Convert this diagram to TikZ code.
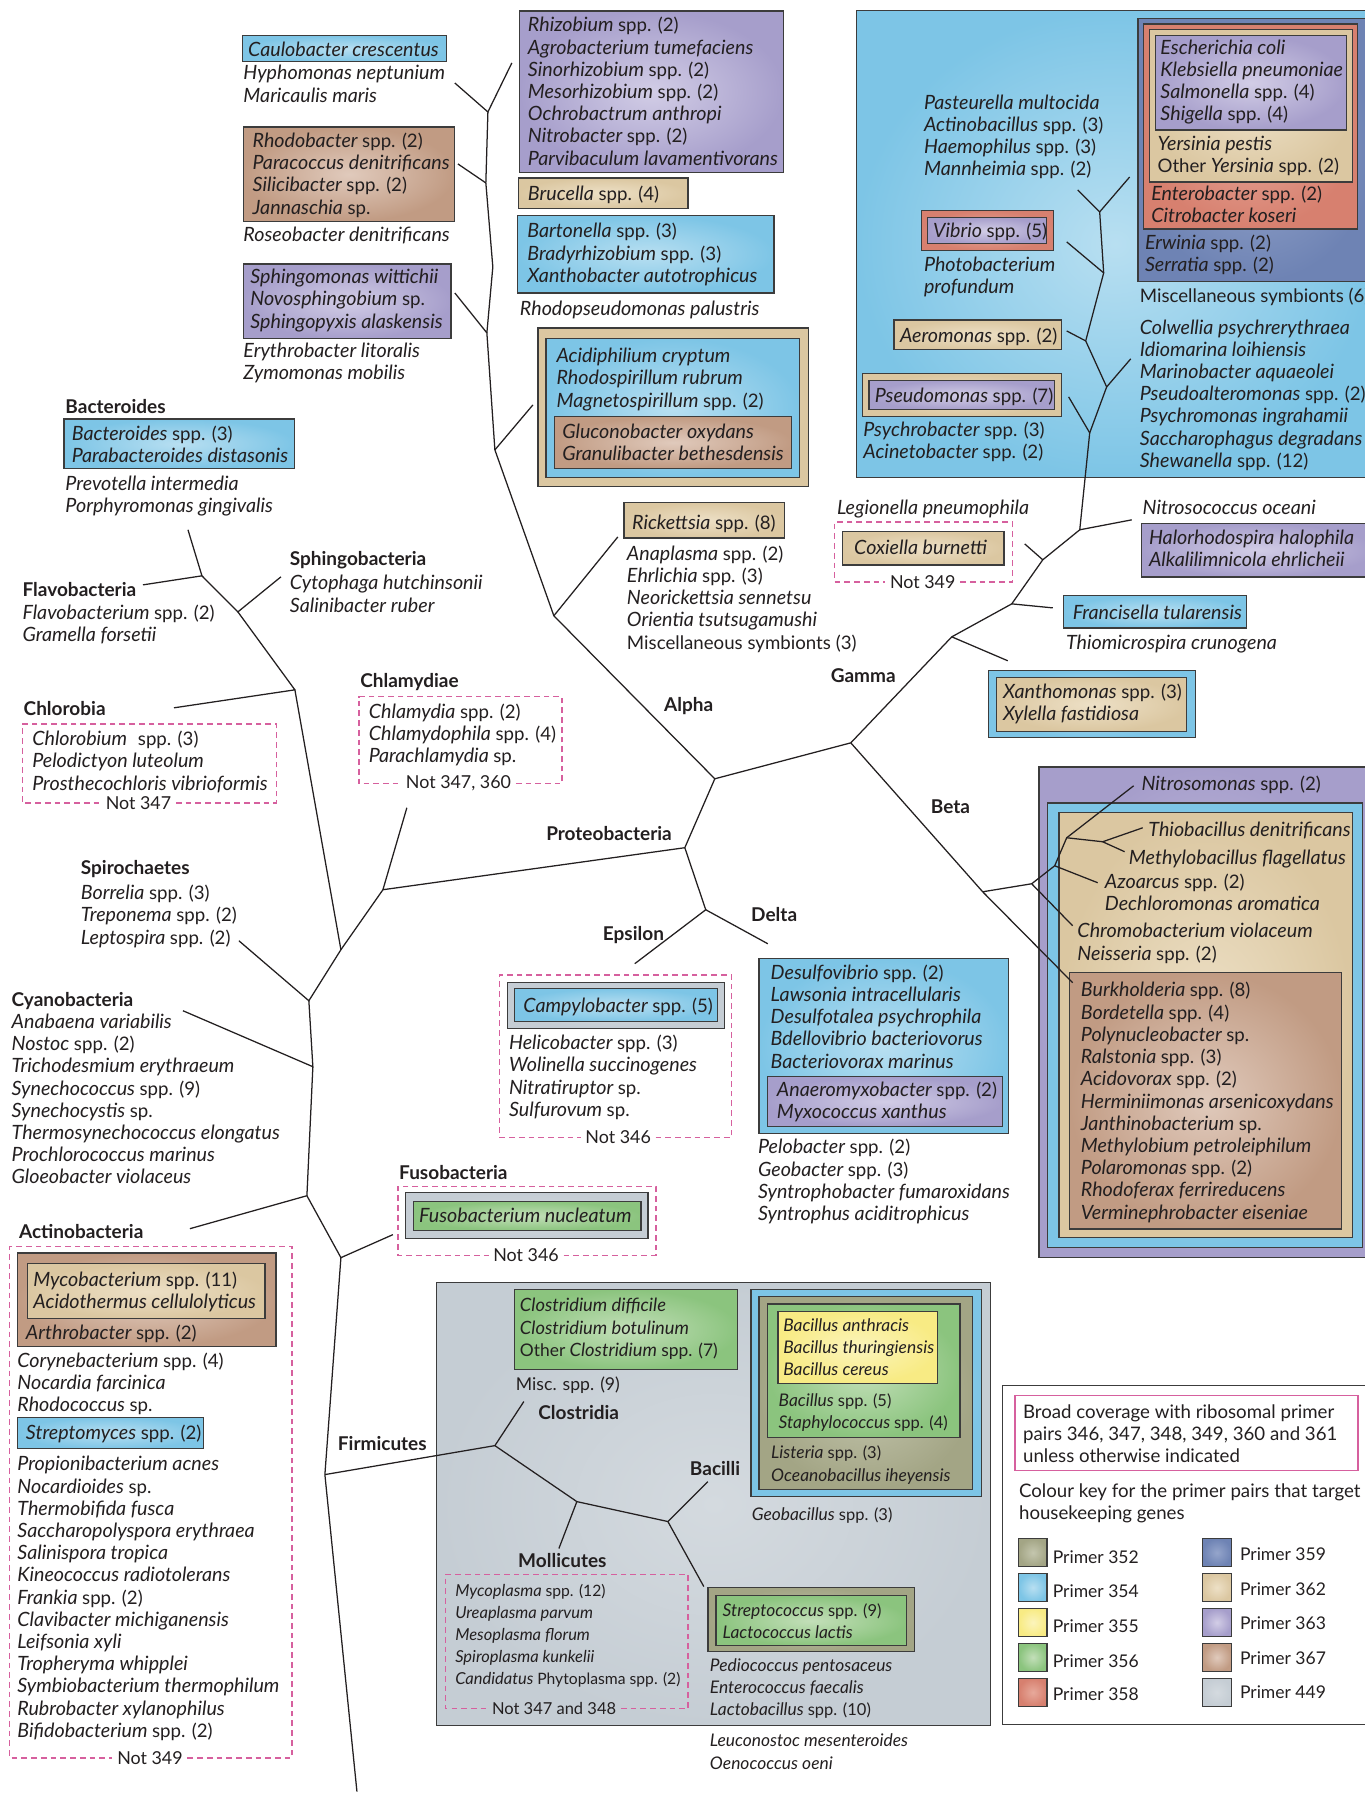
\documentclass[tikz,border=0pt]{standalone}
\usepackage{fontspec}
\setmainfont{Lato}
\usetikzlibrary{calc}
\definecolor{txtc}{HTML}{231F20}
\definecolor{bord}{HTML}{3C3C3C}
\definecolor{pinkd}{HTML}{D6609E}
\definecolor{c352}{HTML}{A3A585}\definecolor{c352l}{HTML}{C4C6AE}
\definecolor{c354}{HTML}{7DC5E6}\definecolor{c354l}{HTML}{B8DFF1}
\definecolor{c355}{HTML}{F8EB84}\definecolor{c355l}{HTML}{FBF4BC}
\definecolor{c356}{HTML}{8BC47E}\definecolor{c356l}{HTML}{C3DFB9}
\definecolor{c358}{HTML}{D7806F}\definecolor{c358l}{HTML}{E7A99B}
\definecolor{c359}{HTML}{6E83B4}\definecolor{c359l}{HTML}{95A5CB}
\definecolor{c362}{HTML}{DBC7A1}\definecolor{c362l}{HTML}{EDE0C6}
\definecolor{c363}{HTML}{A69ECB}\definecolor{c363l}{HTML}{D2CDE6}
\definecolor{c367}{HTML}{C19B83}\definecolor{c367l}{HTML}{E0CABC}
\definecolor{c449}{HTML}{C5CDD4}\definecolor{c449l}{HTML}{D4DADF}
\def\upsz{16.3}
\newcommand\fsz{\def\upsz{16.3}\fontsize{17.2}{19.4}\selectfont}
\newcommand\fsc{\def\upsz{15.2}\fontsize{16}{19.6}\selectfont}
\newcommand\fss{\def\upsz{14.4}\fontsize{15.2}{19.4}\selectfont}
\newcommand\fsm{\def\upsz{13.7}\fontsize{14.4}{19.3}\selectfont}
\newcommand\up[1]{{\fontsize{\upsz}{\baselineskip}\selectfont\upshape #1}}
\tikzset{
  bx/.style={draw=bord, line width=1.1pt},
  p352/.style={bx, inner color=c352l, outer color=c352},
  p354/.style={bx, inner color=c354l, outer color=c354},
  p355/.style={bx, inner color=c355l, outer color=c355},
  p356/.style={bx, inner color=c356l, outer color=c356},
  p358/.style={bx, inner color=c358l, outer color=c358},
  p359/.style={bx, inner color=c359l, outer color=c359},
  p362/.style={bx, inner color=c362l, outer color=c362},
  p363/.style={bx, inner color=c363l, outer color=c363},
  p367/.style={bx, inner color=c367l, outer color=c367},
  p449/.style={bx, inner color=c449l, outer color=c449},
  pinkbox/.style={draw=pinkd, line width=1.3pt, dash pattern=on 5pt off 3.5pt},
  br/.style={line width=1.1pt, draw=txtc},
  tb/.style={anchor=north west, inner sep=0pt, align=left, font=\fsz\itshape, text=txtc, yshift=7.5pt, execute at begin node=\strut},
  tc/.style={tb, font=\fsc\itshape},
  ts/.style={tb, font=\fss\itshape},
  tm/.style={tb, font=\fsm\itshape},
  tu/.style={tb, font=\fontsize{16.3}{19.4}\selectfont\upshape},
  lb/.style={tb, font=\fontsize{16.6}{19.4}\selectfont\bfseries},
  nl/.style={font=\fontsize{15.6}{19.4}\selectfont\upshape, inner sep=4pt, text=txtc},
}
\begin{document}
\begin{tikzpicture}[x=1pt,y=-1pt]
\useasboundingbox (0,0) rectangle (1192,1568);
\fill[white] (0,0) rectangle (1192,1568);

% ---------------- boxes: Gamma ----------------
\path[p354] (748,9) rectangle (1200,417);
\path[p359] (994,16) rectangle (1200,246);
\path[p358] (999,21) rectangle (1186,200);
\path[p362] (1004,26) rectangle (1181.5,159);
\path[p363] (1009.5,31) rectangle (1176,113.5);
\path[p358] (805,184) rectangle (920.5,219);
\path[p363] (810.5,190) rectangle (914,213);
\path[p362] (781,279.5) rectangle (927.5,305.5);
\path[p362] (753.5,326.5) rectangle (927.5,364);
\path[p363] (759,332.5) rectangle (921,358);
\path[p362] (736,464) rectangle (877,493.5);
\path[p363] (997,457) rectangle (1200,504);
\path[p354] (929,520.5) rectangle (1089,548.5);
\path[p354] (863.5,586) rectangle (1044.5,644.5);
\path[p362] (870.5,592) rectangle (1036.5,639);
% Beta
\path[p363] (907.5,670) rectangle (1200,1098.5);
\path[p354] (915,701.5) rectangle (1190.5,1090);
\path[p362] (925,710) rectangle (1181.5,1081);
\path[p367] (934.5,849.5) rectangle (1172,1073.5);
% Alpha
\path[p354] (212,31) rectangle (390,54);
\path[p367] (212.5,111) rectangle (397,193.5);
\path[p363] (212.5,230.5) rectangle (394,296);
\path[p363] (454,9.5) rectangle (684.5,151);
\path[p362] (453,155.5) rectangle (601,182);
\path[p354] (452,188) rectangle (676,256);
\path[p362] (470,286.5) rectangle (706,425);
\path[p354] (477,295.5) rectangle (698.5,417);
\path[p367] (484.5,364) rectangle (691.5,409);
\path[p362] (545,439) rectangle (685.5,470);
% Epsilon, Delta
\path[p449] (443.5,858.5) rectangle (633,898.5);
\path[p354] (449.5,863.5) rectangle (627,892.5);
\path[p354] (663,837.5) rectangle (881,990);
\path[p363] (670.5,940.5) rectangle (875.5,984);
% Bacteroides
\path[p354] (56,366) rectangle (257.5,409.5);
% Fuso
\path[p449] (354.5,1042) rectangle (566,1082);
\path[p356] (361.5,1049.5) rectangle (560,1075);
% Actino
\path[p367] (15,1094.5) rectangle (241,1176.5);
\path[p362] (24,1104) rectangle (231.5,1152);
\path[p354] (15,1238) rectangle (178,1265.5);
% Firmicutes
\path[p449] (381.5,1120.5) rectangle (865.5,1507.5);
\path[p356] (449.5,1126.5) rectangle (644.5,1196.5);
\path[p354] (656,1126.5) rectangle (857.5,1307.5);
\path[p352] (663,1132.5) rectangle (849.5,1301);
\path[p356] (670.5,1139) rectangle (838.5,1256);
\path[p355] (679.5,1145.5) rectangle (819,1208.5);
\path[p352] (618.5,1387) rectangle (799,1442.5);
\path[p356] (625.5,1394) rectangle (792,1437.5);

% ---------------- tree ----------------
\coordinate (a1) at (397.3,72.5); \coordinate (a2) at (426.2,97.8);
\coordinate (a3) at (447.1,55);   \coordinate (a4) at (400,143.2);
\coordinate (a5) at (424.4,159.8); \coordinate (a6) at (430.5,233.2);
\coordinate (a7) at (397.3,255.9); \coordinate (a8) at (425.3,290.8);
\coordinate (a9) at (465.5,353.7); \coordinate (a10) at (432.3,393);
\coordinate (aN) at (483.8,537.9); \coordinate (ar) at (539.7,469);
\coordinate (pA) at (624.4,680.3);
\coordinate (g1) at (941.4,165.9); \coordinate (g2) at (986.8,154.6);
\coordinate (g3) at (960.6,185.1); \coordinate (g4) at (931.8,211.3);
\coordinate (g5) at (964.1,238.4); \coordinate (g6) at (931.8,289.1);
\coordinate (g7) at (948.4,297.8); \coordinate (g8) at (987.7,313.5);
\coordinate (g9) at (966.7,338);   \coordinate (g10) at (933.5,346.7);
\coordinate (g11) at (951.9,378.1); \coordinate (g12) at (943.2,462.8);
\coordinate (g13) at (988.6,454.1); \coordinate (g14) at (895.1,475.1);
\coordinate (g15) at (910.9,489);  \coordinate (g16) at (883.8,527.5);
\coordinate (g17) at (919.6,531);  \coordinate (g18) at (831.4,556.3);
\coordinate (g19) at (880.3,577.2); \coordinate (gb) at (743.2,648.9);
\coordinate (b1) at (858.4,779);   \coordinate (b2) at (937,858.4);
\coordinate (b3) at (901.2,772);   \coordinate (b4) at (937,808.7);
\coordinate (b5) at (921.3,756.3); \coordinate (b6) at (958.9,771.1);
\coordinate (b7) at (931.8,731.8); \coordinate (b8) at (990.3,686.4);
\coordinate (b9) at (963.2,735.3); \coordinate (b10) at (998.2,723.1);
\coordinate (b11) at (982.4,744);
\coordinate (pr) at (598.2,740.5); \coordinate (ed) at (616.5,794.7);
\coordinate (ep) at (554.5,841.8); \coordinate (de) at (670.7,824.4);
\coordinate (ch) at (334.5,777.2); \coordinate (chl) at (355.4,705.6);
\coordinate (l1) at (164.2,462.8); \coordinate (l2) at (176.4,503);
\coordinate (l3) at (124.9,510.9); \coordinate (l4) at (207.8,534.5);
\coordinate (l5) at (245.4,503.9); \coordinate (l6) at (257.6,602.6);
\coordinate (l7) at (152,618.3);   \coordinate (l8) at (297.8,829.6);
\coordinate (l9) at (208.7,821.8); \coordinate (l10) at (269.8,874.2);
\coordinate (l11) at (159.8,882.9); \coordinate (l12) at (273.3,931.8);
\coordinate (l13) at (165.9,1073.3); \coordinate (l14) at (268.1,1044.5);
\coordinate (l15) at (297.8,1098.6); \coordinate (l16) at (343.2,1078.5);
\coordinate (l17) at (283.8,1288.1); \coordinate (l18) at (311.8,1565);
\coordinate (f1) at (432.3,1262.8); \coordinate (f2) at (457.6,1224.3);
\coordinate (f3) at (503.9,1311.7); \coordinate (f4) at (488.2,1352.7);
\coordinate (f5) at (583.4,1329.1); \coordinate (f6) at (618.3,1294.2);
\coordinate (f7) at (614.8,1385.9);

\draw[br] (a1)--(a2)--(a3);
\draw[br] (a2)--(a5)--(a6)--(a8)--(a10)--(aN)--(pA);
\draw[br] (a4)--(a5); \draw[br] (a7)--(a8); \draw[br] (a9)--(a10); \draw[br] (ar)--(aN);
\draw[br] (pA)--(gb); \draw[br] (pA)--(pr);
\draw[br] (g1)--(g3)--(g2);
\draw[br] (g3)--(g5)--(g7)--(g9)--(g11)--(g12)--(g15)--(g16)--(g18)--(gb);
\draw[br] (g4)--(g5); \draw[br] (g6)--(g7); \draw[br] (g8)--(g9); \draw[br] (g10)--(g11);
\draw[br] (g12)--(g13); \draw[br] (g14)--(g15); \draw[br] (g16)--(g17); \draw[br] (g18)--(g19);
\draw[br] (gb)--(b1)--(b2); \draw[br] (b1)--(b3)--(b4); \draw[br] (b3)--(b5)--(b6);
\draw[br] (b5)--(b7)--(b8); \draw[br] (b7)--(b9)--(b10); \draw[br] (b9)--(b11);
\draw[br] (pr)--(ed)--(ep); \draw[br] (ed)--(de); \draw[br] (pr)--(ch)--(chl); \draw[br] (ch)--(l8);
\draw[br] (l1)--(l2)--(l3); \draw[br] (l2)--(l4)--(l5); \draw[br] (l4)--(l6)--(l7);
\draw[br] (l6)--(l8)--(l10)--(l9); \draw[br] (l10)--(l12)--(l11); \draw[br] (l12)--(l14)--(l13);
\draw[br] (l14)--(l15)--(l16); \draw[br] (l15)--(l17)--(l18);
\draw[br] (l17)--(f1)--(f2); \draw[br] (f1)--(f3)--(f4); \draw[br] (f3)--(f5)--(f6); \draw[br] (f5)--(f7);

% ---------------- texts: Gamma ----------------
\node[tb] (ecoli) at (1013.5,42) {Escherichia coli\\Klebsiella pneumoniae\\Salmonella \up{spp. (4)}\\Shigella \up{spp. (4)}};
\node[tb] (yers) at (1011,126) {Yersinia pestis\\\up{Other} Yersinia \up{spp. (2)}};
\node[tb] (entero) at (1005.5,170) {Enterobacter \up{spp. (2)}\\Citrobacter koseri};
\node[tb] (erw) at (1000,212.5) {Erwinia \up{spp. (2)}\\Serratia \up{spp. (2)}};
\node[tu] (misc6) at (995.5,258) {Miscellaneous symbionts (6)};
\node[tb] (colw) at (995.5,286.5) {Colwellia psychrerythraea\\Idiomarina loihiensis\\Marinobacter aquaeolei\\Pseudoalteromonas \up{spp. (2)}\\Psychromonas ingrahamii\\Saccharophagus degradans\\Shewanella \up{spp. (12)}};
\node[tb] (past) at (807,90) {Pasteurella multocida\\Actinobacillus \up{spp. (3)}\\Haemophilus \up{spp. (3)}\\Mannheimia \up{spp. (2)}};
\node[tb] (vib) at (815,201.5) {Vibrio \up{spp. (5)}};
\node[tb] (photo) at (807,231.5) {Photobacterium\\profundum};
\node[tb] (aero) at (786,292.5) {Aeromonas \up{spp. (2)}};
\node[tb] (pseu) at (764,345) {Pseudomonas \up{spp. (7)}};
\node[tb] (psychro) at (754,375.5) {Psychrobacter \up{spp. (3)}\\Acinetobacter \up{spp. (2)}};
\node[tb] (legio) at (731,443) {Legionella pneumophila};
\node[tb] (coxi) at (746,478) {Coxiella burnetti};
\node[nl] (n349a) at (806,508.3) {Not 349};
\draw[pinkbox] (n349a.east) -- (884.5,508.3) -- (884.5,456) -- (729,456) -- (729,508.3) -- (n349a.west);
\node[tb] (nitroc) at (998,443.5) {Nitrosococcus oceani};
\node[tb] (halo) at (1003.5,470.5) {Halorhodospira halophila\\Alkalilimnicola ehrlicheii};
\node[tb] (franc) at (937,534.5) {Francisella tularensis};
\node[tb] (thiom) at (931,561.5) {Thiomicrospira crunogena};
\node[tb] (xanth) at (876,605) {Xanthomonas \up{spp. (3)}\\Xylella fastidiosa};
% Beta
\node[tb] (nitros) at (997,684.5) {Nitrosomonas \up{spp. (2)}};
\node[tb] (thiob) at (1003,724) {Thiobacillus denitrificans};
\node[tb] (methb) at (986,748.5) {Methylobacillus flagellatus};
\node[tb] (azo) at (965,771) {Azoarcus \up{spp. (2)}\\Dechloromonas aromatica};
\node[tb] (chromo) at (941,814) {Chromobacterium violaceum\\Neisseria \up{spp. (2)}};
\node[tb] (burk) at (944,865.5) {Burkholderia \up{spp. (8)}\\Bordetella \up{spp. (4)}\\Polynucleobacter \up{sp.}\\Ralstonia \up{spp. (3)}\\Acidovorax \up{spp. (2)}\\Herminiimonas arsenicoxydans\\Janthinobacterium \up{sp.}\\Methylobium petroleiphilum\\Polaromonas \up{spp. (2)}\\Rhodoferax ferrireducens\\Verminephrobacter eiseniae};
% Alpha
\node[tb] (caulo) at (216.5,43) {Caulobacter crescentus};
\node[tb] (hypho) at (212.5,64.5) {Hyphomonas neptunium\\Maricaulis maris};
\node[tb] (rhodob) at (220.5,123.5) {Rhodobacter \up{spp. (2)}\\Paracoccus denitrificans\\Silicibacter \up{spp. (2)}\\Jannaschia \up{sp.}};
\node[tb] (roseo) at (212.5,205) {Roseobacter denitrificans};
\node[tb] (sphm) at (218.5,242.5) {Sphingomonas wittichii\\Novosphingobium \up{sp.}\\Sphingopyxis alaskensis};
\node[tb] (eryth) at (212.5,307) {Erythrobacter litoralis\\Zymomonas mobilis};
\node[tb] (rhizo) at (461,22.5) {Rhizobium \up{spp. (2)}\\Agrobacterium tumefaciens\\Sinorhizobium \up{spp. (2)}\\Mesorhizobium \up{spp. (2)}\\Ochrobactrum anthropi\\Nitrobacter \up{spp. (2)}\\Parvibaculum lavamentivorans};
\node[tb] (bruc) at (461,169) {Brucella \up{spp. (4)}};
\node[tb] (barto) at (460.5,202.5) {Bartonella \up{spp. (3)}\\Bradyrhizobium \up{spp. (3)}\\Xanthobacter autotrophicus};
\node[tb] (rhodop) at (454,269) {Rhodopseudomonas palustris};
\node[tb] (acidi) at (486,311.5) {Acidiphilium cryptum\\Rhodospirillum rubrum\\Magnetospirillum \up{spp. (2)}};
\node[tb] (glucon) at (491,377.5) {Gluconobacter oxydans\\Granulibacter bethesdensis};
\node[tb] (ricket) at (552,456) {Rickettsia \up{spp. (8)}};
\node[tb] (anapl) at (547.5,484) {Anaplasma \up{spp. (2)}\\Ehrlichia \up{spp. (3)}\\Neorickettsia sennetsu\\Orientia tsutsugamushi\\\up{Miscellaneous symbionts (3)}};
% labels
\node[lb] (alpha) at (580,615.5) {Alpha};
\node[lb] (gamma) at (725.5,590) {Gamma};
\node[lb] (proteo) at (477,727.5) {Proteobacteria};
\node[lb] (beta) at (813,704.5) {Beta};
\node[lb] (epsi) at (526.5,815.5) {Epsilon};
\node[lb] (delta) at (656,799) {Delta};
% Epsilon
\node[tb] (campy) at (457,878.5) {Campylobacter \up{spp. (5)}};
\node[tb] (helico) at (444.5,911.5) {Helicobacter \up{spp. (3)}\\Wolinella succinogenes\\Nitratiruptor \up{sp.}\\Sulfurovum \up{sp.}};
\node[nl] (n346a) at (540,993.5) {Not 346};
\draw[pinkbox] (n346a.east) -- (639,993.5) -- (639,851.5) -- (436.5,851.5) -- (436.5,993.5) -- (n346a.west);
% Delta
\node[tb] (desulf) at (673,850) {Desulfovibrio \up{spp. (2)}\\Lawsonia intracellularis\\Desulfotalea psychrophila\\Bdellovibrio bacteriovorus\\Bacteriovorax marinus};
\node[tb] (anaero) at (678.5,952.5) {Anaeromyxobacter \up{spp. (2)}\\Myxococcus xanthus};
\node[tb] (pelob) at (662,1002.5) {Pelobacter \up{spp. (2)}\\Geobacter \up{spp. (3)}\\Syntrophobacter fumaroxidans\\Syntrophus aciditrophicus};
% Chlamydiae
\node[lb] (chlamL) at (314.5,594.5) {Chlamydiae};
\node[tb] (chlam) at (322,622) {Chlamydia \up{spp. (2)}\\Chlamydophila \up{spp. (4)}\\Parachlamydia \up{sp.}};
\node[nl] (n347b) at (400.5,684.5) {Not 347, 360};
\draw[pinkbox] (n347b.east) -- (491,684.5) -- (491,608.5) -- (313.5,608.5) -- (313.5,684.5) -- (n347b.west);
% Bacteroides etc
\node[lb] (bactL) at (57,355) {Bacteroides};
\node[tb] (bact) at (62.5,379) {Bacteroides \up{spp. (3)}\\Parabacteroides distasonis};
\node[tb] (prevo) at (57,423) {Prevotella intermedia\\Porphyromonas gingivalis};
\node[lb] (sphL) at (253,487.5) {Sphingobacteria};
\node[tb] (cyto) at (253,510) {Cytophaga hutchinsonii\\Salinibacter ruber};
\node[lb] (flavL) at (19.5,514.5) {Flavobacteria};
\node[tb] (flav) at (19.5,536) {Flavobacterium \up{spp. (2)}\\Gramella forsetii};
\node[lb] (chlorL) at (20.5,619) {Chlorobia};
\node[tb] (chlor) at (28,646) {Chlorobium\hspace{0.55em}\up{spp. (3)}\\Pelodictyon luteolum\\Prosthecochloris vibrioformis};
\node[nl] (n347a) at (121,701.5) {Not 347};
\draw[pinkbox] (n347a.east) -- (241.5,701.5) -- (241.5,632.5) -- (19.5,632.5) -- (19.5,701.5) -- (n347a.west);
\node[lb] (spiroL) at (70.5,758) {Spirochaetes};
\node[tb] (spiro) at (70.5,780.5) {Borrelia \up{spp. (3)}\\Treponema \up{spp. (2)}\\Leptospira \up{spp. (2)}};
\node[lb] (cyanoL) at (10,872.5) {Cyanobacteria};
\node[tb] (cyano) at (10,893) {Anabaena variabilis\\Nostoc \up{spp. (2)}\\Trichodesmium erythraeum\\Synechococcus \up{spp. (9)}\\Synechocystis \up{sp.}\\Thermosynechococcus elongatus\\Prochlorococcus marinus\\Gloeobacter violaceus};
% Fusobacteria
\node[lb] (fusoL) at (348.5,1024) {Fusobacteria};
\node[tb] (fuso) at (366,1062) {Fusobacterium nucleatum};
\node[nl] (n346b) at (459.5,1096.5) {Not 346};
\draw[pinkbox] (n346b.east) -- (573,1096.5) -- (573,1036.5) -- (347.5,1036.5) -- (347.5,1096.5) -- (n346b.west);
% Actinobacteria
\node[lb] (actL) at (16.5,1076) {Actinobacteria};
\node[tb] (myco) at (29,1118.5) {Mycobacterium \up{spp. (11)}\\Acidothermus cellulolyticus};
\node[tb] (arthro) at (22.5,1164) {Arthrobacter \up{spp. (2)}};
\node[tb] (coryne) at (15,1189) {Corynebacterium \up{spp. (4)}\\Nocardia farcinica\\Rhodococcus \up{sp.}};
\node[tb] (strepto) at (22.5,1251.5) {Streptomyces \up{spp. (2)}};
\node[tb] (propi) at (15,1279.5) {Propionibacterium acnes\\Nocardioides \up{sp.}\\Thermobifida fusca\\Saccharopolyspora erythraea\\Salinispora tropica\\Kineococcus radiotolerans\\Frankia \up{spp. (2)}\\Clavibacter michiganensis\\Leifsonia xyli\\Tropheryma whipplei\\Symbiobacterium thermophilum\\Rubrobacter xylanophilus\\Bifidobacterium \up{spp. (2)}};
\node[nl] (n349b) at (131,1535.5) {Not 349};
\draw[pinkbox] (n349b.east) -- (255,1535.5) -- (255,1089) -- (8.5,1089) -- (8.5,1535.5) -- (n349b.west);
% Firmicutes
\node[lb] (firmL) at (295,1261) {Firmicutes};
\node[tc] (clost) at (454,1141.5) {Clostridium difficile\\Clostridium botulinum\\\up{Other} Clostridium \up{spp. (7)}};
\node[tb, font=\fontsize{15.4}{19.4}\selectfont\upshape] (miscs) at (450.5,1208) {Misc. spp. (9)};
\node[ts] (banth) at (684,1159) {Bacillus anthracis\\Bacillus thuringiensis\\Bacillus cereus};
\node[ts] (bspp) at (680,1224.5) {Bacillus \up{spp. (5)}\\Staphylococcus \up{spp. (4)}};
\node[ts] (list) at (673.5,1270.5) {Listeria \up{spp. (3)}\\Oceanobacillus iheyensis};
\node[ts] (geob) at (656.5,1321.5) {Geobacillus \up{spp. (3)}};
\node[lb] (clostL) at (470,1234) {Clostridia};
\node[lb] (bacL) at (602.5,1282.5) {Bacilli};
\node[lb] (molL) at (452.5,1363) {Mollicutes};
\node[tm] (mycopl) at (397.5,1391) {Mycoplasma \up{spp. (12)}\\Ureaplasma parvum\\Mesoplasma florum\\Spiroplasma kunkelii\\Candidatus \up{Phytoplasma spp. (2)}};
\node[nl, font=\fontsize{14.4}{19.4}\selectfont\upshape] (n347c) at (484,1492.5) {Not 347 and 348};
\draw[pinkbox] (n347c.east) -- (601,1492.5) -- (601,1375.5) -- (389,1375.5) -- (389,1492.5) -- (n347c.west);
\node[ts] (strepc) at (631,1408) {Streptococcus \up{spp. (9)}\\Lactococcus lactis};
\node[ts] (pedio) at (620,1456) {Pediococcus pentosaceus\\Enterococcus faecalis\\Lactobacillus \up{spp. (10)}};
\node[ts] (leuco) at (620,1522) {Leuconostoc mesenteroides\\Oenococcus oeni};

% ---------------- legend ----------------
\draw[line width=1.1pt, draw=bord] (876,1210.5) rectangle (1200,1506.5);
\draw[draw=pinkd, line width=1.5pt] (886.5,1219) rectangle (1186,1284.5);
\node[tu] (broad) at (893.5,1234) {Broad coverage with ribosomal primer\\pairs 346, 347, 348, 349, 360 and 361\\unless otherwise indicated};
\node[tu] (ckey) at (890,1303) {Colour key for the primer pairs that target\\housekeeping genes};
\path[p352] (890,1344) rectangle +(24.5,24.5);
\path[p354] (890,1374.5) rectangle +(24.5,24.5);
\path[p355] (890,1405) rectangle +(24.5,24.5);
\path[p356] (890,1435.5) rectangle +(24.5,24.5);
\path[p358] (890,1466) rectangle +(24.5,24.5);
\path[p359] (1050.5,1344) rectangle +(25,24.5);
\path[p362] (1050.5,1374.5) rectangle +(25,24.5);
\path[p363] (1050.5,1405) rectangle +(25,24.5);
\path[p367] (1050.5,1435.5) rectangle +(25,24.5);
\path[p449] (1050.5,1466) rectangle +(25,24.5);
\tikzset{kl/.style={tb, font=\fontsize{15.3}{19.4}\selectfont\upshape}}
\node[kl] (k352) at (919.5,1359.5) {Primer 352};
\node[kl] (k354) at (919.5,1389.5) {Primer 354};
\node[kl] (k355) at (919.5,1420) {Primer 355};
\node[kl] (k356) at (919.5,1450.5) {Primer 356};
\node[kl] (k358) at (919.5,1479.5) {Primer 358};
\node[kl] (k359) at (1083,1356.5) {Primer 359};
\node[kl] (k362) at (1083,1387) {Primer 362};
\node[kl] (k363) at (1083,1417.5) {Primer 363};
\node[kl] (k367) at (1083,1448) {Primer 367};
\node[kl] (k449) at (1083,1477.5) {Primer 449};
\end{tikzpicture}
\end{document}
